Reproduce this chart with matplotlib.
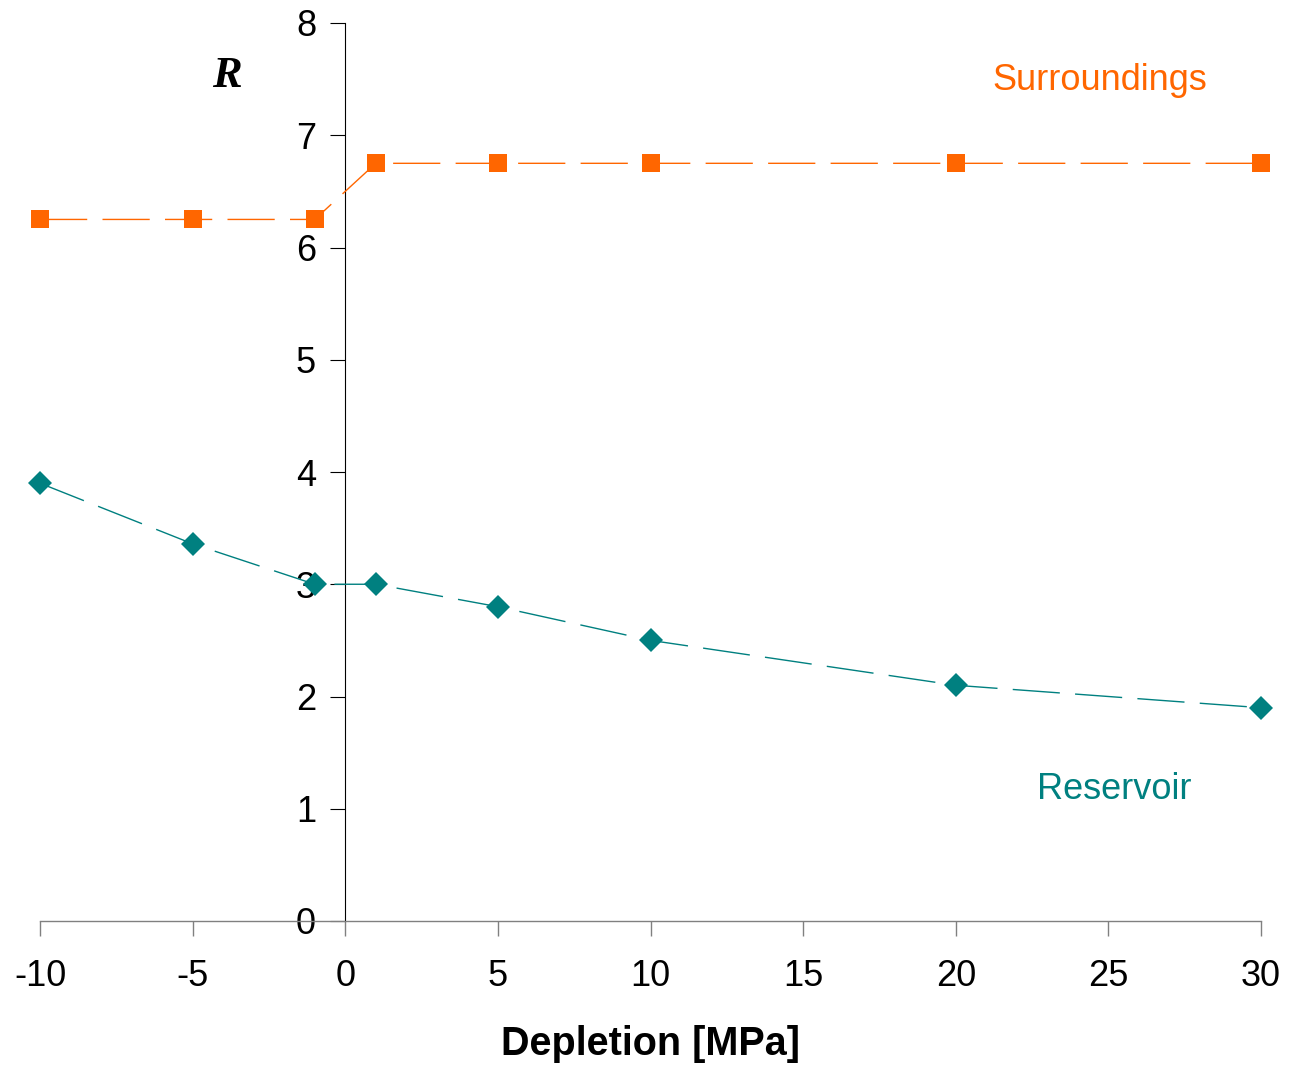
import matplotlib
matplotlib.use("Agg")
import matplotlib.pyplot as plt

plt.rcParams['font.family'] = ['Liberation Sans', 'DejaVu Sans']
plt.rcParams['lines.scale_dashes'] = False
plt.rcParams['axes.unicode_minus'] = False

# Depletion steps [MPa]
depletion = [-10, -5, -1, 1, 5, 10, 20, 30]
# Stress path ratio R
surroundings = [6.25, 6.25, 6.25, 6.75, 6.75, 6.75, 6.75, 6.75]
reservoir = [3.90, 3.36, 3.00, 3.00, 2.80, 2.50, 2.10, 1.90]

x_ticks = [-10, -5, 0, 5, 10, 15, 20, 25, 30]
y_ticks = [0, 1, 2, 3, 4, 5, 6, 7, 8]

orange = '#FF6600'
teal = '#008080'

fig = plt.figure(figsize=(12.89, 10.68), dpi=100)
ax = fig.add_axes([40 / 1289, 1 - 921 / 1068, (1261 - 40) / 1289, (921 - 23) / 1068])

ax.plot(depletion, surroundings, color=orange, lw=1.0, dashes=(34, 11),
        marker='s', markersize=13.5, markeredgewidth=0, markerfacecolor=orange,
        clip_on=False, zorder=3)
ax.plot(depletion, reservoir, color=teal, lw=1.0, dashes=(34, 11),
        marker='D', markersize=12, markeredgewidth=0, markerfacecolor=teal,
        clip_on=False, zorder=3)

ax.set_xlim(-10, 30)
ax.set_ylim(0, 8)
ax.set_xticks(x_ticks)
ax.set_yticks(y_ticks)

for side in ('top', 'right'):
    ax.spines[side].set_visible(False)
ax.spines['left'].set_position(('data', 0))
ax.spines['left'].set_color('black')
ax.spines['left'].set_linewidth(0.8)
ax.spines['bottom'].set_color('#808080')
ax.spines['bottom'].set_linewidth(1.0)

ax.tick_params(axis='x', direction='out', length=11, width=1.0, color='#808080',
               labelsize=26, pad=16)
ax.tick_params(axis='y', direction='out', length=11, width=0.8, color='black',
               labelsize=26, pad=10)

ax.set_xlabel('Depletion [MPa]', fontsize=28.5, fontweight='bold', labelpad=23)

ax.text(-3.87, 7.53, 'R', fontsize=32, fontweight='bold', fontstyle='italic',
        family=['Liberation Serif', 'DejaVu Serif'], ha='center', va='center')
ax.text(24.73, 7.49, 'Surroundings', fontsize=26, color=orange,
        ha='center', va='center')
ax.text(25.18, 1.17, 'Reservoir', fontsize=26, color=teal,
        ha='center', va='center')

fig.savefig('out.png', dpi=100)
